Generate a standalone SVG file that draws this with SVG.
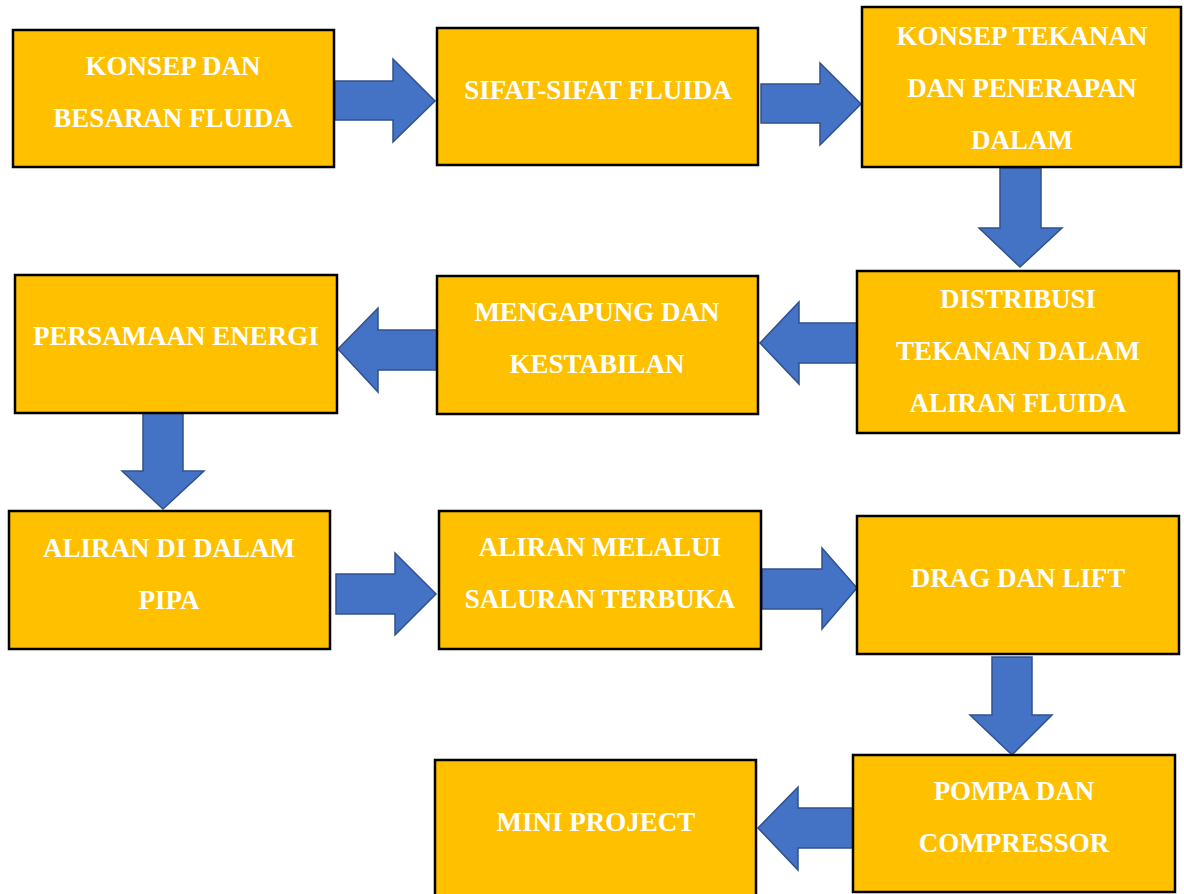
<svg xmlns="http://www.w3.org/2000/svg" width="1184" height="894" viewBox="0 0 1184 894">
<style>
.box{fill:#FFC000;stroke:#000;stroke-width:2.5}
.t{font-family:"Liberation Serif","Times New Roman",serif;font-weight:bold;font-size:27px;fill:#fff;text-anchor:middle}
.arr{fill:#4472C4;stroke:#2F528F;stroke-width:1.5;stroke-linejoin:miter}
</style>
<rect width="1184" height="894" fill="#fff"/>
<g id="connectors">
<polygon class="arr" points="335,81 393,81 393,59 435,101 393,142 393,120 335,120"/>
<polygon class="arr" points="761,84 820,84 820,63 861,104 820,145 820,123 761,123"/>
<polygon class="arr" points="1000,168 1041,168 1041,228 1062,228 1020,267 979,228 1000,228"/>
<polygon class="arr" points="858,323 799,323 799,302 760,343 799,384 799,363 858,363"/>
<polygon class="arr" points="437,330 378,330 378,308 338,349 378,392 378,370 437,370"/>
<polygon class="arr" points="143,412 183,412 183,471 204,471 163,509 122,471 143,471"/>
<polygon class="arr" points="336,574 395,574 395,553 436,594 395,635 395,614 336,614"/>
<polygon class="arr" points="762,569 822,569 822,548 857,588 822,629 822,609 762,609"/>
<polygon class="arr" points="992,657 1032,657 1032,715 1052,715 1012,755 970,715 992,715"/>
<polygon class="arr" points="857,808 798,808 798,787 758,828 798,870 798,848 857,848"/>
</g>
<g id="n1"><rect class="box" x="13" y="30" width="321" height="137"/>
<text class="t" x="173" y="75">KONSEP DAN</text><text class="t" x="173" y="127">BESARAN FLUIDA</text></g>
<g id="n2"><rect class="box" x="437" y="28" width="321" height="137"/>
<text class="t" x="598" y="99">SIFAT-SIFAT FLUIDA</text></g>
<g id="n3"><rect class="box" x="862" y="7" width="319" height="160"/>
<text class="t" x="1022" y="45">KONSEP TEKANAN</text><text class="t" x="1022" y="97">DAN PENERAPAN</text><text class="t" x="1022" y="149">DALAM</text></g>
<g id="n4"><rect class="box" x="857" y="271" width="322" height="162"/>
<text class="t" x="1018" y="308">DISTRIBUSI</text><text class="t" x="1018" y="360">TEKANAN DALAM</text><text class="t" x="1018" y="412">ALIRAN FLUIDA</text></g>
<g id="n5"><rect class="box" x="437" y="276" width="321" height="138"/>
<text class="t" x="597" y="321">MENGAPUNG DAN</text><text class="t" x="597" y="373">KESTABILAN</text></g>
<g id="n6"><rect class="box" x="15" y="275" width="322" height="138"/>
<text class="t" x="176" y="345">PERSAMAAN ENERGI</text></g>
<g id="n7"><rect class="box" x="9" y="511" width="321" height="138"/>
<text class="t" x="169" y="557">ALIRAN DI DALAM</text><text class="t" x="169" y="609">PIPA</text></g>
<g id="n8"><rect class="box" x="439" y="511" width="322" height="138"/>
<text class="t" x="600" y="556">ALIRAN MELALUI</text><text class="t" x="600" y="608">SALURAN TERBUKA</text></g>
<g id="n9"><rect class="box" x="857" y="516" width="322" height="138"/>
<text class="t" x="1018" y="587">DRAG DAN LIFT</text></g>
<g id="n10"><rect class="box" x="853" y="755" width="322" height="137"/>
<text class="t" x="1014" y="800">POMPA DAN</text><text class="t" x="1014" y="852">COMPRESSOR</text></g>
<g id="n11"><rect class="box" x="435" y="760" width="321" height="140"/>
<text class="t" x="596" y="831">MINI PROJECT</text></g>
</svg>
